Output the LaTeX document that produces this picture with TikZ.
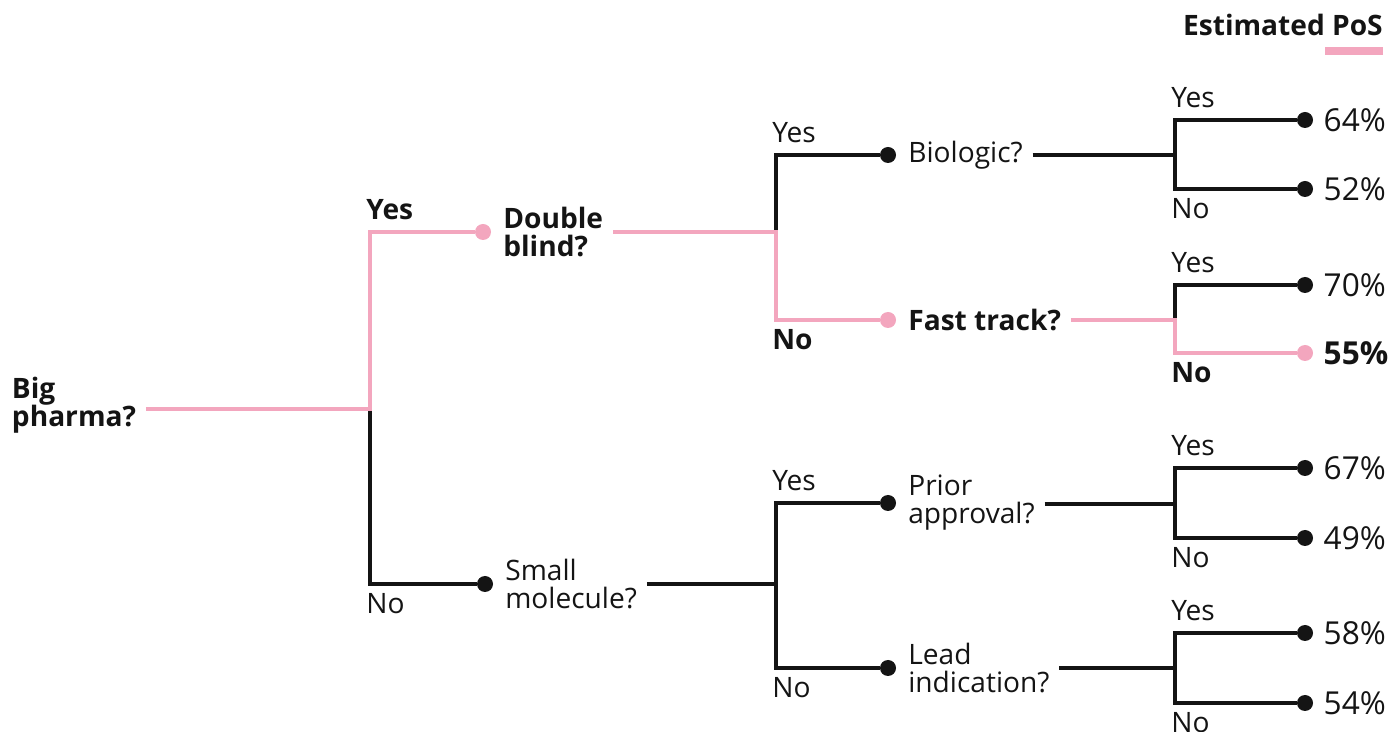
\documentclass[tikz,border=0pt]{standalone}
\usepackage{fontspec}
\setmainfont{Open Sans}
\usetikzlibrary{positioning}

\definecolor{posPink}{HTML}{F3A6BE}
\definecolor{inkBlack}{HTML}{141414}

\newcommand{\treefont}{\fontsize{16}{16}\selectfont}
\newcommand{\pctfont}{\fontsize{18}{18}\selectfont}

\tikzset{
  blackbranch/.style={line width=2.4pt, draw=inkBlack},
  pinkbranch/.style={line width=2.4pt, draw=posPink},
  dotblack/.style={circle, fill=inkBlack, inner sep=0pt, minimum size=0.32cm},
  dotpink/.style={dotblack, fill=posPink},
  question/.style={anchor=west, align=left, inner sep=0pt, outer xsep=0.2cm,
                   text=inkBlack, font=\treefont},
  qbold/.style={question, font=\treefont\bfseries},
  ans/.style={inner sep=0pt, text=inkBlack, font=\treefont},
  ansbold/.style={ans, font=\treefont\bfseries},
  pct/.style={ans, font=\pctfont},
}

\begin{document}
\begin{tikzpicture}[x=0.02cm,y=-0.02cm]

  \useasboundingbox (0,0) rectangle (1390,732);

  % split points
  \coordinate (s1) at (370,409);
  \coordinate (s2) at (776,232);
  \coordinate (s3) at (776,584);
  \coordinate (s4) at (1175,155);
  \coordinate (s5) at (1175,320);
  \coordinate (s6) at (1175,504);
  \coordinate (s7) at (1175,668);

  % dots in front of the questions
  \node[dotpink]  (d1) at (483,232) {};
  \node[dotblack] (d2) at (485,584) {};
  \node[dotblack] (d3) at (888,155) {};
  \node[dotpink]  (d4) at (888,320) {};
  \node[dotblack] (d5) at (888,503) {};
  \node[dotblack] (d6) at (888,668) {};

  % questions
  \node[qbold] (bp) at (2,405) {Big\\pharma?};
  \node[qbold, right=0.04cm of d1] (db) {Double\\blind?};
  \node[question, right=0.04cm of d2] (sm) {Small\\molecule?};
  \node[question, right=0.04cm of d3] (bio) {Biologic?};
  \node[qbold, right=0.04cm of d4] (ft) {Fast track?};
  \node[question, right=0.04cm of d5] (pa) {Prior\\approval?};
  \node[question, right=0.04cm of d6] (li) {Lead\\indication?};

  % end points with the estimates
  \foreach \nm/\yy/\pc in {a/120/64,b/189/52,c/285/70,e/468/67,f/538/49,g/633/58,h/703/54}
  {
       \node[dotblack] (\nm) at (1305,\yy) {};
       \node[pct, right=0.2cm of \nm] (pct\nm) {\pc\%};
  }
  \node[dotpink] (d) at (1305,353) {};
  \node[pct, font=\pctfont\bfseries, right=0.2cm of d] (pctd) {55\%};

  % black branches
  \draw[blackbranch] (s1) |- (d2);
  \draw[blackbranch] (s2) |- (d3);
  \draw[blackbranch] (sm.east |- s3) -- (s3) |- (d5);
  \draw[blackbranch] (s3) |- (d6);
  \draw[blackbranch] (bio.east |- s4) -- (s4) |- (a);
  \draw[blackbranch] (s4) |- (b);
  \draw[blackbranch] (s5) |- (c);
  \draw[blackbranch] (pa.east |- s6) -- (s6) |- (e);
  \draw[blackbranch] (s6) |- (f);
  \draw[blackbranch] (li.east |- s7) -- (s7) |- (g);
  \draw[blackbranch] (s7) |- (h);

  % pink path of the estimate
  \draw[pinkbranch] (bp.east |- s1) -- (s1) |- (d1);
  \draw[pinkbranch] (db.east |- s2) -- (s2) |- (d4);
  \draw[pinkbranch] (ft.east |- s5) -- (s5) |- (d);

  % corners for the Yes/No labels
  \coordinate (y1) at (s1 |- d1);  \coordinate (n1) at (s1 |- d2);
  \coordinate (y2) at (s2 |- d3);  \coordinate (n2) at (s2 |- d4);
  \coordinate (y3) at (s3 |- d5);  \coordinate (n3) at (s3 |- d6);
  \coordinate (y4) at (s4 |- a);   \coordinate (n4) at (s4 |- b);
  \coordinate (y5) at (s5 |- c);   \coordinate (n5) at (s5 |- d);
  \coordinate (y6) at (s6 |- e);   \coordinate (n6) at (s6 |- f);
  \coordinate (y7) at (s7 |- g);   \coordinate (n7) at (s7 |- h);

  \foreach \k/\ys/\ns in {1/ansbold/ans,2/ans/ansbold,3/ans/ans,4/ans/ans,5/ans/ansbold,6/ans/ans,7/ans/ans}
  {
       \node[\ys, above right=0.24cm and -0.08cm of y\k] (yes\k) {Yes};
       \node[\ns, below right=0.18cm and -0.08cm of n\k] (no\k) {No};
  }

  % legend
  \node[ansbold, anchor=east] (legend) at (1383,25) {Estimated PoS};
  \coordinate (bar) at (1383,51);
  \draw[posPink, line width=4pt] (bar) -- ++(-58,0);

\end{tikzpicture}
\end{document}
